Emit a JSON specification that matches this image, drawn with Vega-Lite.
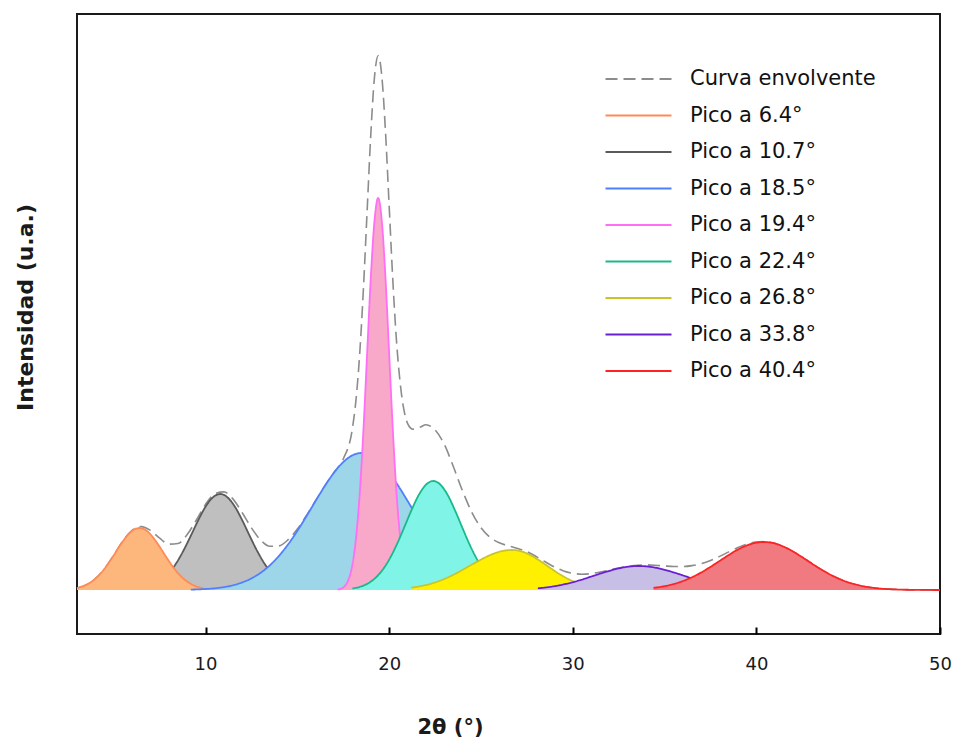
{
  "$schema": "https://vega.github.io/schema/vega-lite/v6.json",
  "width": 863,
  "height": 620,
  "autosize": {"type": "none"},
  "padding": {"left": 77, "top": 14, "right": 17, "bottom": 108},
  "background": "white",
  "config": {
    "view": {"stroke": "#1a1a1a", "strokeWidth": 2},
    "font": "DejaVu Sans",
    "axis": {"ticks": true}
  },
  "datasets": {
    "env": [
      {"serie":"Curva envolvente","ang":3,"int":2.0},{"serie":"Curva envolvente","ang":3.5,"int":5.1},{"serie":"Curva envolvente","ang":4,"int":11.3},{"serie":"Curva envolvente","ang":4.5,"int":21.3},{"serie":"Curva envolvente","ang":5,"int":34.8},{"serie":"Curva envolvente","ang":5.5,"int":49.0},{"serie":"Curva envolvente","ang":6,"int":59.7},{"serie":"Curva envolvente","ang":6.5,"int":63.4},{"serie":"Curva envolvente","ang":7,"int":59.6},{"serie":"Curva envolvente","ang":7.5,"int":51.8},{"serie":"Curva envolvente","ang":8,"int":45.9},{"serie":"Curva envolvente","ang":8.5,"int":46.5},{"serie":"Curva envolvente","ang":9,"int":55.4},{"serie":"Curva envolvente","ang":9.5,"int":70.0},{"serie":"Curva envolvente","ang":10,"int":85.6},{"serie":"Curva envolvente","ang":10.5,"int":96.2},{"serie":"Curva envolvente","ang":11,"int":98.1},{"serie":"Curva envolvente","ang":11.5,"int":90.9},{"serie":"Curva envolvente","ang":12,"int":77.3},{"serie":"Curva envolvente","ang":12.5,"int":62.1},{"serie":"Curva envolvente","ang":13,"int":49.9},{"serie":"Curva envolvente","ang":13.5,"int":43.7},{"serie":"Curva envolvente","ang":14,"int":44.1},{"serie":"Curva envolvente","ang":14.5,"int":50.3},{"serie":"Curva envolvente","ang":15,"int":61.0},{"serie":"Curva envolvente","ang":15.5,"int":74.6},{"serie":"Curva envolvente","ang":16,"int":89.5},{"serie":"Curva envolvente","ang":16.5,"int":104.3},{"serie":"Curva envolvente","ang":17,"int":117.7},{"serie":"Curva envolvente","ang":17.5,"int":131.0},{"serie":"Curva envolvente","ang":18,"int":161.8},{"serie":"Curva envolvente","ang":18.2,"int":191.2},{"serie":"Curva envolvente","ang":18.4,"int":237.3},{"serie":"Curva envolvente","ang":18.6,"int":301.6},{"serie":"Curva envolvente","ang":18.8,"int":378.8},{"serie":"Curva envolvente","ang":19,"int":455.4},{"serie":"Curva envolvente","ang":19.2,"int":512.6},{"serie":"Curva envolvente","ang":19.4,"int":534.3},{"serie":"Curva envolvente","ang":19.6,"int":514.1},{"serie":"Curva envolvente","ang":19.8,"int":458.6},{"serie":"Curva envolvente","ang":20,"int":384.2},{"serie":"Curva envolvente","ang":20.2,"int":309.8},{"serie":"Curva envolvente","ang":20.4,"int":249.1},{"serie":"Curva envolvente","ang":20.6,"int":207.1},{"serie":"Curva envolvente","ang":20.8,"int":180.6},{"serie":"Curva envolvente","ang":21,"int":166.7},{"serie":"Curva envolvente","ang":21.3,"int":160.8},{"serie":"Curva envolvente","ang":21.7,"int":162.9},{"serie":"Curva envolvente","ang":22,"int":165.3},{"serie":"Curva envolvente","ang":22.5,"int":160.1},{"serie":"Curva envolvente","ang":23,"int":145.8},{"serie":"Curva envolvente","ang":23.5,"int":123.2},{"serie":"Curva envolvente","ang":24,"int":99.0},{"serie":"Curva envolvente","ang":24.5,"int":77.8},{"serie":"Curva envolvente","ang":25,"int":62.3},{"serie":"Curva envolvente","ang":25.5,"int":52.6},{"serie":"Curva envolvente","ang":26,"int":47.2},{"serie":"Curva envolvente","ang":26.5,"int":44.1},{"serie":"Curva envolvente","ang":27,"int":41.5},{"serie":"Curva envolvente","ang":27.5,"int":38.5},{"serie":"Curva envolvente","ang":28,"int":33.5},{"serie":"Curva envolvente","ang":28.5,"int":28.2},{"serie":"Curva envolvente","ang":29,"int":23.0},{"serie":"Curva envolvente","ang":29.5,"int":19.1},{"serie":"Curva envolvente","ang":30,"int":16.7},{"serie":"Curva envolvente","ang":30.5,"int":15.8},{"serie":"Curva envolvente","ang":31,"int":16.4},{"serie":"Curva envolvente","ang":31.5,"int":18.0},{"serie":"Curva envolvente","ang":32,"int":20.0},{"serie":"Curva envolvente","ang":32.5,"int":22.0},{"serie":"Curva envolvente","ang":33,"int":23.5},{"serie":"Curva envolvente","ang":33.5,"int":24.8},{"serie":"Curva envolvente","ang":34,"int":25.1},{"serie":"Curva envolvente","ang":34.5,"int":24.7},{"serie":"Curva envolvente","ang":35,"int":24.0},{"serie":"Curva envolvente","ang":35.5,"int":23.5},{"serie":"Curva envolvente","ang":36,"int":23.5},{"serie":"Curva envolvente","ang":36.5,"int":24.4},{"serie":"Curva envolvente","ang":37,"int":26.4},{"serie":"Curva envolvente","ang":37.5,"int":29.5},{"serie":"Curva envolvente","ang":38,"int":33.6},{"serie":"Curva envolvente","ang":38.5,"int":38.1},{"serie":"Curva envolvente","ang":39,"int":42.4},{"serie":"Curva envolvente","ang":39.5,"int":45.9},{"serie":"Curva envolvente","ang":40,"int":48.0},{"serie":"Curva envolvente","ang":40.5,"int":48.4},{"serie":"Curva envolvente","ang":41,"int":46.7},{"serie":"Curva envolvente","ang":41.5,"int":43.2},{"serie":"Curva envolvente","ang":42,"int":38.4},{"serie":"Curva envolvente","ang":42.5,"int":32.7},{"serie":"Curva envolvente","ang":43,"int":26.7},{"serie":"Curva envolvente","ang":43.5,"int":20.8},{"serie":"Curva envolvente","ang":44,"int":15.6},{"serie":"Curva envolvente","ang":44.5,"int":11.2},{"serie":"Curva envolvente","ang":45,"int":7.6},{"serie":"Curva envolvente","ang":45.5,"int":5.0},{"serie":"Curva envolvente","ang":46,"int":3.2},{"serie":"Curva envolvente","ang":46.5,"int":1.9},{"serie":"Curva envolvente","ang":47,"int":1.1},{"serie":"Curva envolvente","ang":47.5,"int":0.6},{"serie":"Curva envolvente","ang":48,"int":0.3},{"serie":"Curva envolvente","ang":49,"int":0.1},{"serie":"Curva envolvente","ang":50,"int":0}
    ],
    "p107": [
      {"serie":"Pico a 10.7°","ang":6.4,"int":1.3},{"serie":"Pico a 10.7°","ang":6.8,"int":2.7},{"serie":"Pico a 10.7°","ang":7.2,"int":5.4},{"serie":"Pico a 10.7°","ang":7.6,"int":9.9},{"serie":"Pico a 10.7°","ang":8.0,"int":16.8},{"serie":"Pico a 10.7°","ang":8.4,"int":26.7},{"serie":"Pico a 10.7°","ang":8.8,"int":39.5},{"serie":"Pico a 10.7°","ang":9.2,"int":54.3},{"serie":"Pico a 10.7°","ang":9.6,"int":69.7},{"serie":"Pico a 10.7°","ang":10.0,"int":83.3},{"serie":"Pico a 10.7°","ang":10.4,"int":92.6},{"serie":"Pico a 10.7°","ang":10.8,"int":96},{"serie":"Pico a 10.7°","ang":11.2,"int":92.6},{"serie":"Pico a 10.7°","ang":11.6,"int":83.3},{"serie":"Pico a 10.7°","ang":12.0,"int":69.7},{"serie":"Pico a 10.7°","ang":12.4,"int":54.3},{"serie":"Pico a 10.7°","ang":12.8,"int":39.5},{"serie":"Pico a 10.7°","ang":13.2,"int":26.7},{"serie":"Pico a 10.7°","ang":13.6,"int":16.8},{"serie":"Pico a 10.7°","ang":14.0,"int":9.9},{"serie":"Pico a 10.7°","ang":14.4,"int":5.4},{"serie":"Pico a 10.7°","ang":14.8,"int":2.7},{"serie":"Pico a 10.7°","ang":15.2,"int":1.3}
    ],
    "p64": [
      {"serie":"Pico a 6.4°","ang":3.0,"int":2.0},{"serie":"Pico a 6.4°","ang":3.4,"int":4.3},{"serie":"Pico a 6.4°","ang":3.8,"int":8.4},{"serie":"Pico a 6.4°","ang":4.2,"int":14.8},{"serie":"Pico a 6.4°","ang":4.6,"int":23.8},{"serie":"Pico a 6.4°","ang":5.0,"int":34.7},{"serie":"Pico a 6.4°","ang":5.4,"int":46.1},{"serie":"Pico a 6.4°","ang":5.8,"int":55.7},{"serie":"Pico a 6.4°","ang":6.2,"int":61.3},{"serie":"Pico a 6.4°","ang":6.4,"int":62},{"serie":"Pico a 6.4°","ang":6.6,"int":61.3},{"serie":"Pico a 6.4°","ang":7.0,"int":55.7},{"serie":"Pico a 6.4°","ang":7.4,"int":46.1},{"serie":"Pico a 6.4°","ang":7.8,"int":34.7},{"serie":"Pico a 6.4°","ang":8.2,"int":23.8},{"serie":"Pico a 6.4°","ang":8.6,"int":14.8},{"serie":"Pico a 6.4°","ang":9.0,"int":8.4},{"serie":"Pico a 6.4°","ang":9.4,"int":4.3},{"serie":"Pico a 6.4°","ang":9.9,"int":1.7}
    ],
    "p185": [
      {"serie":"Pico a 18.5°","ang":9.2,"int":0.4},{"serie":"Pico a 18.5°","ang":10.0,"int":1.0},{"serie":"Pico a 18.5°","ang":10.5,"int":1.7},{"serie":"Pico a 18.5°","ang":11.0,"int":2.9},{"serie":"Pico a 18.5°","ang":11.5,"int":4.75},{"serie":"Pico a 18.5°","ang":12.0,"int":7.6},{"serie":"Pico a 18.5°","ang":12.5,"int":11.6},{"serie":"Pico a 18.5°","ang":13.0,"int":17.2},{"serie":"Pico a 18.5°","ang":13.5,"int":24.7},{"serie":"Pico a 18.5°","ang":14.0,"int":34.2},{"serie":"Pico a 18.5°","ang":14.5,"int":45.7},{"serie":"Pico a 18.5°","ang":15.0,"int":59.1},{"serie":"Pico a 18.5°","ang":15.5,"int":73.9},{"serie":"Pico a 18.5°","ang":16.0,"int":89.2},{"serie":"Pico a 18.5°","ang":16.5,"int":104.1},{"serie":"Pico a 18.5°","ang":17.0,"int":117.4},{"serie":"Pico a 18.5°","ang":17.5,"int":127.9},{"serie":"Pico a 18.5°","ang":18.0,"int":134.7},{"serie":"Pico a 18.5°","ang":18.5,"int":137},{"serie":"Pico a 18.5°","ang":19.0,"int":134.7},{"serie":"Pico a 18.5°","ang":19.5,"int":127.9},{"serie":"Pico a 18.5°","ang":20.0,"int":117.4},{"serie":"Pico a 18.5°","ang":20.5,"int":104.1},{"serie":"Pico a 18.5°","ang":21.0,"int":89.2},{"serie":"Pico a 18.5°","ang":21.5,"int":73.9},{"serie":"Pico a 18.5°","ang":22.0,"int":59.1},{"serie":"Pico a 18.5°","ang":22.5,"int":45.7},{"serie":"Pico a 18.5°","ang":23.0,"int":34.2},{"serie":"Pico a 18.5°","ang":23.5,"int":24.7}
    ],
    "p194": [
      {"serie":"Pico a 19.4°","ang":17.2,"int":0.5},{"serie":"Pico a 19.4°","ang":17.4,"int":1.5},{"serie":"Pico a 19.4°","ang":17.6,"int":4.3},{"serie":"Pico a 19.4°","ang":17.8,"int":11.1},{"serie":"Pico a 19.4°","ang":18.0,"int":25.6},{"serie":"Pico a 19.4°","ang":18.2,"int":52.8},{"serie":"Pico a 19.4°","ang":18.4,"int":97.3},{"serie":"Pico a 19.4°","ang":18.6,"int":160.3},{"serie":"Pico a 19.4°","ang":18.8,"int":236.5},{"serie":"Pico a 19.4°","ang":19.0,"int":312.3},{"serie":"Pico a 19.4°","ang":19.2,"int":368.9},{"serie":"Pico a 19.4°","ang":19.4,"int":392},{"serie":"Pico a 19.4°","ang":19.6,"int":368.9},{"serie":"Pico a 19.4°","ang":19.8,"int":312.3},{"serie":"Pico a 19.4°","ang":20.0,"int":236.5},{"serie":"Pico a 19.4°","ang":20.2,"int":160.3},{"serie":"Pico a 19.4°","ang":20.4,"int":97.3},{"serie":"Pico a 19.4°","ang":20.6,"int":52.8},{"serie":"Pico a 19.4°","ang":20.8,"int":25.6},{"serie":"Pico a 19.4°","ang":21.0,"int":11.1},{"serie":"Pico a 19.4°","ang":21.2,"int":4.3},{"serie":"Pico a 19.4°","ang":21.4,"int":1.5},{"serie":"Pico a 19.4°","ang":21.6,"int":0.5}
    ],
    "p224": [
      {"serie":"Pico a 22.4°","ang":18.0,"int":1.5},{"serie":"Pico a 22.4°","ang":18.4,"int":3.1},{"serie":"Pico a 22.4°","ang":18.8,"int":6.1},{"serie":"Pico a 22.4°","ang":19.2,"int":11.2},{"serie":"Pico a 22.4°","ang":19.6,"int":19.1},{"serie":"Pico a 22.4°","ang":20.0,"int":30.3},{"serie":"Pico a 22.4°","ang":20.4,"int":44.8},{"serie":"Pico a 22.4°","ang":20.8,"int":61.7},{"serie":"Pico a 22.4°","ang":21.2,"int":79.1},{"serie":"Pico a 22.4°","ang":21.6,"int":94.6},{"serie":"Pico a 22.4°","ang":22.0,"int":105.2},{"serie":"Pico a 22.4°","ang":22.4,"int":109},{"serie":"Pico a 22.4°","ang":22.8,"int":105.2},{"serie":"Pico a 22.4°","ang":23.2,"int":94.6},{"serie":"Pico a 22.4°","ang":23.6,"int":79.1},{"serie":"Pico a 22.4°","ang":24.0,"int":61.7},{"serie":"Pico a 22.4°","ang":24.4,"int":44.8},{"serie":"Pico a 22.4°","ang":24.8,"int":30.3},{"serie":"Pico a 22.4°","ang":25.2,"int":19.1},{"serie":"Pico a 22.4°","ang":25.6,"int":11.2},{"serie":"Pico a 22.4°","ang":26.0,"int":6.1},{"serie":"Pico a 22.4°","ang":26.4,"int":3.1},{"serie":"Pico a 22.4°","ang":26.8,"int":1.5}
    ],
    "p268": [
      {"serie":"Pico a 26.8°","ang":21.2,"int":2.3},{"serie":"Pico a 26.8°","ang":21.7,"int":3.8},{"serie":"Pico a 26.8°","ang":22.2,"int":5.9},{"serie":"Pico a 26.8°","ang":22.7,"int":8.8},{"serie":"Pico a 26.8°","ang":23.2,"int":12.6},{"serie":"Pico a 26.8°","ang":23.7,"int":17.1},{"serie":"Pico a 26.8°","ang":24.2,"int":22.2},{"serie":"Pico a 26.8°","ang":24.7,"int":27.4},{"serie":"Pico a 26.8°","ang":25.2,"int":32.3},{"serie":"Pico a 26.8°","ang":25.7,"int":36.4},{"serie":"Pico a 26.8°","ang":26.2,"int":39.1},{"serie":"Pico a 26.8°","ang":26.7,"int":40},{"serie":"Pico a 26.8°","ang":27.2,"int":38.6},{"serie":"Pico a 26.8°","ang":27.7,"int":34.8},{"serie":"Pico a 26.8°","ang":28.2,"int":29.3},{"serie":"Pico a 26.8°","ang":28.7,"int":23.0},{"serie":"Pico a 26.8°","ang":29.2,"int":16.8},{"serie":"Pico a 26.8°","ang":29.7,"int":11.5},{"serie":"Pico a 26.8°","ang":30.2,"int":7.3},{"serie":"Pico a 26.8°","ang":30.7,"int":4.4},{"serie":"Pico a 26.8°","ang":31.2,"int":2.4}
    ],
    "p338": [
      {"serie":"Pico a 33.8°","ang":28.1,"int":1.7},{"serie":"Pico a 33.8°","ang":28.6,"int":2.7},{"serie":"Pico a 33.8°","ang":29.1,"int":4.1},{"serie":"Pico a 33.8°","ang":29.6,"int":6.0},{"serie":"Pico a 33.8°","ang":30.1,"int":8.3},{"serie":"Pico a 33.8°","ang":30.6,"int":11.0},{"serie":"Pico a 33.8°","ang":31.1,"int":14.0},{"serie":"Pico a 33.8°","ang":31.6,"int":17.0},{"serie":"Pico a 33.8°","ang":32.1,"int":19.7},{"serie":"Pico a 33.8°","ang":32.6,"int":22.0},{"serie":"Pico a 33.8°","ang":33.1,"int":23.5},{"serie":"Pico a 33.8°","ang":33.6,"int":24},{"serie":"Pico a 33.8°","ang":34.1,"int":23.5},{"serie":"Pico a 33.8°","ang":34.6,"int":22.0},{"serie":"Pico a 33.8°","ang":35.1,"int":19.7},{"serie":"Pico a 33.8°","ang":35.6,"int":17.0},{"serie":"Pico a 33.8°","ang":36.1,"int":14.0},{"serie":"Pico a 33.8°","ang":36.6,"int":11.0},{"serie":"Pico a 33.8°","ang":37.1,"int":8.3},{"serie":"Pico a 33.8°","ang":37.6,"int":6.0},{"serie":"Pico a 33.8°","ang":38.1,"int":4.1},{"serie":"Pico a 33.8°","ang":38.6,"int":2.7},{"serie":"Pico a 33.8°","ang":39.1,"int":1.7}
    ],
    "p404": [
      {"serie":"Pico a 40.4°","ang":34.4,"int":2.1},{"serie":"Pico a 40.4°","ang":34.9,"int":3.5},{"serie":"Pico a 40.4°","ang":35.4,"int":5.5},{"serie":"Pico a 40.4°","ang":35.9,"int":8.3},{"serie":"Pico a 40.4°","ang":36.4,"int":12.0},{"serie":"Pico a 40.4°","ang":36.9,"int":16.6},{"serie":"Pico a 40.4°","ang":37.4,"int":22.0},{"serie":"Pico a 40.4°","ang":37.9,"int":27.9},{"serie":"Pico a 40.4°","ang":38.4,"int":33.9},{"serie":"Pico a 40.4°","ang":38.9,"int":39.5},{"serie":"Pico a 40.4°","ang":39.4,"int":44.0},{"serie":"Pico a 40.4°","ang":39.9,"int":47.0},{"serie":"Pico a 40.4°","ang":40.4,"int":48},{"serie":"Pico a 40.4°","ang":40.9,"int":47.0},{"serie":"Pico a 40.4°","ang":41.4,"int":44.0},{"serie":"Pico a 40.4°","ang":41.9,"int":39.5},{"serie":"Pico a 40.4°","ang":42.4,"int":33.9},{"serie":"Pico a 40.4°","ang":42.9,"int":27.9},{"serie":"Pico a 40.4°","ang":43.4,"int":22.0},{"serie":"Pico a 40.4°","ang":43.9,"int":16.6},{"serie":"Pico a 40.4°","ang":44.4,"int":12.0},{"serie":"Pico a 40.4°","ang":44.9,"int":8.3},{"serie":"Pico a 40.4°","ang":45.4,"int":5.5},{"serie":"Pico a 40.4°","ang":45.9,"int":3.5},{"serie":"Pico a 40.4°","ang":46.4,"int":2.1},{"serie":"Pico a 40.4°","ang":46.9,"int":1.2},{"serie":"Pico a 40.4°","ang":47.4,"int":0.7},{"serie":"Pico a 40.4°","ang":48.4,"int":0.2},{"serie":"Pico a 40.4°","ang":50,"int":0}
    ]
  },
  "encoding": {
    "x": {
      "field": "ang", "type": "quantitative",
      "scale": {"domain": [3, 50], "nice": false, "zero": false},
      "axis": {
        "values": [10, 20, 30, 40, 50], "title": "2θ (°)", "domain": false, "grid": false, "zindex": 2,
        "ticks": true, "offset": -7, "tickSize": 7, "tickColor": "#000000", "tickWidth": 2, "tickOpacity": 1, "labelFlush": false,
        "labelFontSize": 18, "labelColor": "#1a1a1a", "labelPadding": 21, "labelFont": "DejaVu Sans",
        "titleFontSize": 21, "titleFontWeight": "bold", "titleColor": "#1a1a1a", "titleFont": "DejaVu Sans",
        "titleX": 373, "titleY": 106, "titleBaseline": "alphabetic", "titleAlign": "center"
      }
    },
    "y": {
      "field": "int", "type": "quantitative",
      "scale": {"domain": [-44, 576], "nice": false},
      "axis": {
        "title": "Intensidad (u.a.)", "labels": false, "ticks": false, "domain": false, "grid": false,
        "titleFontSize": 22, "titleFontWeight": "bold", "titleColor": "#1a1a1a", "titleFont": "DejaVu Sans",
        "titleX": -52, "titleY": 293, "titleAngle": 270, "titleAlign": "center", "titleBaseline": "middle"
      }
    }
  },
  "layer": [
    {
      "data": {"name": "env"},
      "mark": {"type": "line", "interpolate": "monotone", "strokeWidth": 1.6},
      "encoding": {
        "stroke": {"field": "serie", "type": "nominal",
          "scale": {"domain": ["Curva envolvente","Pico a 6.4°","Pico a 10.7°","Pico a 18.5°","Pico a 19.4°","Pico a 22.4°","Pico a 26.8°","Pico a 33.8°","Pico a 40.4°"],
                    "range": ["#8c8c8c","#FF8A55","#5a5a5a","#4F7FFF","#FF6EF5","#1AB98C","#C9C42A","#6A1ECF","#FF2222"]},
          "legend": {"title": null, "orient": "none", "legendX": 527, "legendY": 55, "symbolType": "stroke", "symbolSize": 4356, "symbolStrokeWidth": 2.2, "labelFontSize": 21, "labelFont": "DejaVu Sans", "labelColor": "#111111", "labelOffset": 17, "rowPadding": 15.5, "clipHeight": 20, "padding": 0, "labelLimit": 0}},
        "strokeDash": {"field": "serie", "type": "nominal",
          "scale": {"domain": ["Curva envolvente","Pico a 6.4°","Pico a 10.7°","Pico a 18.5°","Pico a 19.4°","Pico a 22.4°","Pico a 26.8°","Pico a 33.8°","Pico a 40.4°"],
                    "range": [[12,6],[1,0],[1,0],[1,0],[1,0],[1,0],[1,0],[1,0],[1,0]]},
          "legend": {"title": null, "orient": "none", "legendX": 527, "legendY": 55, "symbolType": "stroke", "symbolSize": 4356, "symbolStrokeWidth": 2.2, "labelFontSize": 21, "labelFont": "DejaVu Sans", "labelColor": "#111111", "labelOffset": 17, "rowPadding": 15.5, "clipHeight": 20, "padding": 0, "labelLimit": 0}}
      }
    },
    {
      "data": {"name": "p107"},
      "layer": [
        {"mark": {"type": "area", "interpolate": "monotone", "color": "#BFBFBF", "opacity": 1}},
        {"mark": {"type": "line", "interpolate": "monotone", "strokeWidth": 1.8}, "encoding": {"stroke": {"field": "serie", "type": "nominal"}, "strokeDash": {"field": "serie", "type": "nominal"}}}
      ]
    },
    {
      "data": {"name": "p64"},
      "layer": [
        {"mark": {"type": "area", "interpolate": "monotone", "color": "#FDB67C", "opacity": 1}},
        {"mark": {"type": "line", "interpolate": "monotone", "strokeWidth": 1.8}, "encoding": {"stroke": {"field": "serie", "type": "nominal"}, "strokeDash": {"field": "serie", "type": "nominal"}}}
      ]
    },
    {
      "data": {"name": "p185"},
      "layer": [
        {"mark": {"type": "area", "interpolate": "monotone", "color": "#9DD6E8", "opacity": 1}},
        {"mark": {"type": "line", "interpolate": "monotone", "strokeWidth": 1.8}, "encoding": {"stroke": {"field": "serie", "type": "nominal"}, "strokeDash": {"field": "serie", "type": "nominal"}}}
      ]
    },
    {
      "data": {"name": "p194"},
      "layer": [
        {"mark": {"type": "area", "interpolate": "monotone", "color": "#F8A8C8", "opacity": 1}},
        {"mark": {"type": "line", "interpolate": "monotone", "strokeWidth": 1.8}, "encoding": {"stroke": {"field": "serie", "type": "nominal"}, "strokeDash": {"field": "serie", "type": "nominal"}}}
      ]
    },
    {
      "data": {"name": "p224"},
      "layer": [
        {"mark": {"type": "area", "interpolate": "monotone", "color": "#80F4E6", "opacity": 1}},
        {"mark": {"type": "line", "interpolate": "monotone", "strokeWidth": 1.8}, "encoding": {"stroke": {"field": "serie", "type": "nominal"}, "strokeDash": {"field": "serie", "type": "nominal"}}}
      ]
    },
    {
      "data": {"name": "p268"},
      "layer": [
        {"mark": {"type": "area", "interpolate": "monotone", "color": "#FFF000", "opacity": 1}},
        {"mark": {"type": "line", "interpolate": "monotone", "strokeWidth": 1.8}, "encoding": {"stroke": {"field": "serie", "type": "nominal"}, "strokeDash": {"field": "serie", "type": "nominal"}}}
      ]
    },
    {
      "data": {"name": "p338"},
      "layer": [
        {"mark": {"type": "area", "interpolate": "monotone", "color": "#C8BFE6", "opacity": 1}},
        {"mark": {"type": "line", "interpolate": "monotone", "strokeWidth": 1.8}, "encoding": {"stroke": {"field": "serie", "type": "nominal"}, "strokeDash": {"field": "serie", "type": "nominal"}}}
      ]
    },
    {
      "data": {"name": "p404"},
      "layer": [
        {"mark": {"type": "area", "interpolate": "monotone", "color": "#F07A80", "opacity": 1}},
        {"mark": {"type": "line", "interpolate": "monotone", "strokeWidth": 1.8}, "encoding": {"stroke": {"field": "serie", "type": "nominal"}, "strokeDash": {"field": "serie", "type": "nominal"}}}
      ]
    }
  ]
}
